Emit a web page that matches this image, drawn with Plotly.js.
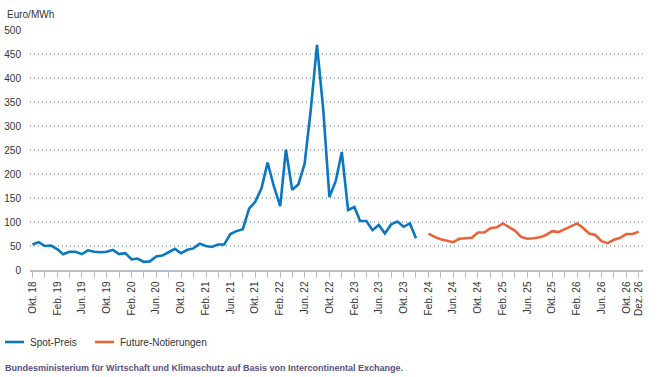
<!DOCTYPE html>
<html><head><meta charset="utf-8">
<script src="https://cdn.plot.ly/plotly-3.0.1.min.js"></script>
<style>html,body{margin:0;padding:0;background:#fff}#chart{width:660px;height:377px}</style>
</head><body><div id="chart"></div>
<script>
// Spot-Preis, monthly from Okt. 2018 to Dez. 2023 (Euro/MWh)
const spotStart = [2018, 10];
const spotValues = [53,58,50,51,43,33,38,38,33,41,38,37,38,42,33,35,22,24,17,18,28,30,37,44,35,42,45,
  55,50,48,53,53,75,81,85,128,142,170,224,174,133,251,167,178,221,332,469,333,152,185,246,
  125,131,102,102,83,94,76,95,101,90,97,66];
// Future-Notierungen, monthly from Feb. 2024 to Dez. 2026
const futureStart = [2024, 2];
const futureValues = [76,69,64,61,58,65,66,67,78,78,87,89,97,90,82,69,65,66,68,73,81,79,85,90,97,88,
  76,73,60,56,63,67,75,75,80];
const monthNames = ['Jan.','Feb.','Mär.','Apr.','Mai','Jun.','Jul.','Aug.','Sep.','Okt.','Nov.','Dez.'];
const legendNames = ['Spot-Preis','Future-Notierungen'];
const yTitle = 'Euro/MWh';
const sourceText = 'Bundesministerium für Wirtschaft und Klimaschutz auf Basis von Intercontinental Exchange.';

function monthDates(start, n, step){
  step = step || 1;
  const out=[]; let y=start[0], m=start[1];
  for(let i=0;i<n;i++){ out.push(y+'-'+String(m).padStart(2,'0')+'-01'); m+=step; while(m>12){m-=12;y++;} }
  return out;
}
const spotX = monthDates(spotStart, spotValues.length);
const futureX = monthDates(futureStart, futureValues.length);

// ticks every 2 months from Okt.18 to Dez.26, labels every 4 months + Dez.26
const tickAll = monthDates([2018,10], 50, 2);
const tickText = tickAll.map((d,i)=>{
  const y=d.slice(2,4), m=+d.slice(5,7);
  const last = i===tickAll.length-1;
  return (i%2===0 || last) ? monthNames[m-1]+' '+y : '';
});

const W=660,H=377,L=30,R=17,T=30,B=107;
const pw=W-L-R, ph=H-T-B;
const px=x=>(x-L)/pw, py=y=>(H-B-y)/ph;
const font="'Liberation Sans Narrow','Liberation Sans',Arial,sans-serif";
const blue='#0a77c0', orange='#e9623a';

const traces=[
  {x:spotX,y:spotValues,type:'scatter',mode:'lines',name:legendNames[0],line:{color:blue,width:2.6},hoverinfo:'x+y'},
  {x:futureX,y:futureValues,type:'scatter',mode:'lines',name:legendNames[1],line:{color:orange,width:2.6},hoverinfo:'x+y'}
];
const layout={
  width:W,height:H,margin:{l:L,r:R,t:T,b:B},
  paper_bgcolor:'#fff',plot_bgcolor:'#fff',showlegend:false,
  font:{family:font,size:10,color:'#333'},
  xaxis:{type:'date',range:['2018-09-19','2026-12-22'],tickvals:tickAll,ticktext:tickText,
    tickangle:-90,ticks:'outside',ticklen:6,tickcolor:'#b5bec6',tickwidth:1,
    showline:true,linecolor:'#b5bec6',linewidth:1.5,showgrid:false,zeroline:false,
    tickfont:{family:font,size:10,color:'#333'},fixedrange:true},
  yaxis:{range:[0,500],dtick:50,showgrid:true,gridcolor:'#a9b9c5',griddash:'1px,3px',gridwidth:1.2,
    zeroline:false,showline:false,ticks:'',tickfont:{family:font,size:10,color:'#333'},ticklabelstandoff:8,fixedrange:true},
  shapes:[
    {type:'line',xref:'paper',yref:'paper',x0:px(5),x1:px(24),y0:py(342),y1:py(342),line:{color:blue,width:2.6}},
    {type:'line',xref:'paper',yref:'paper',x0:px(95),x1:px(114),y0:py(342),y1:py(342),line:{color:orange,width:2.6}}
  ],
  annotations:[
    {text:yTitle,xref:'paper',yref:'paper',x:px(5),y:py(14),xanchor:'left',yanchor:'middle',showarrow:false,font:{family:font,size:10,color:'#333'}},
    {text:legendNames[0],xref:'paper',yref:'paper',x:px(28),y:py(342),xanchor:'left',yanchor:'middle',showarrow:false,font:{family:font,size:10,color:'#333'}},
    {text:legendNames[1],xref:'paper',yref:'paper',x:px(118),y:py(342),xanchor:'left',yanchor:'middle',showarrow:false,font:{family:font,size:10,color:'#333'}},
    {text:'<b>'+sourceText+'</b>',xref:'paper',yref:'paper',x:px(3),y:py(368),xanchor:'left',yanchor:'middle',showarrow:false,font:{family:font,size:9,color:'#5a4f80'}}
  ]
};
Plotly.newPlot('chart',traces,layout,{displayModeBar:false,staticPlot:true});
</script></body></html>
